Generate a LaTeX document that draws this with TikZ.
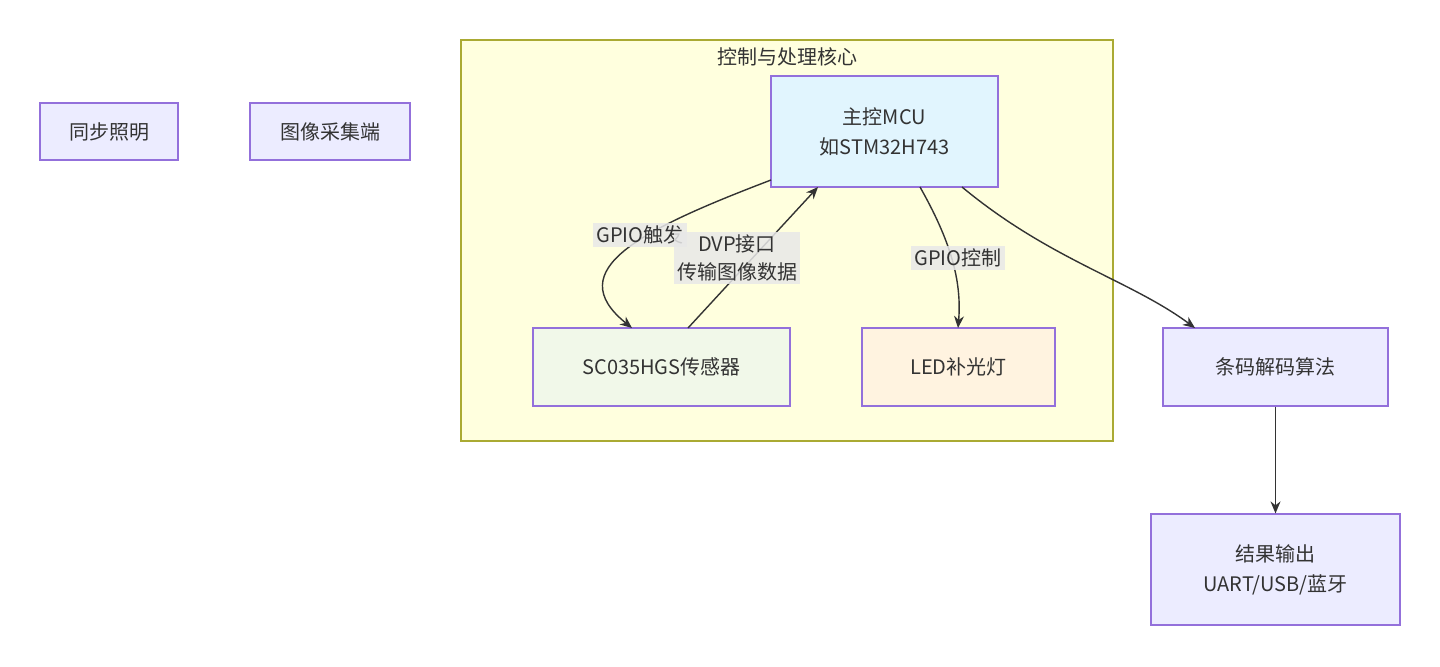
\documentclass[tikz,border=0pt]{standalone}
\usepackage{fontspec}
\setmainfont{Noto Sans CJK SC}
\usetikzlibrary{arrows.meta,positioning}
\definecolor{boxfill}{HTML}{ECECFF}
\definecolor{boxline}{HTML}{9370DB}
\definecolor{grpfill}{HTML}{FFFFDE}
\definecolor{grpline}{HTML}{AAAA33}
\definecolor{mcufill}{HTML}{E1F5FE}
\definecolor{senfill}{HTML}{F1F8E9}
\definecolor{ledfill}{HTML}{FFF3E0}
\definecolor{lblfill}{HTML}{E8E8E8}
\definecolor{edge}{HTML}{333333}
\tikzset{
  blk/.style={draw=boxline, fill=boxfill, line width=0.6pt, align=center,
    font=\fontsize{10}{15}\selectfont, text=black!80, inner sep=0pt},
  lbl/.style={fill=lblfill, fill opacity=0.85, text opacity=1, align=center,
    font=\fontsize{10}{14}\selectfont, text=black!80, inner sep=1.5pt},
  conn/.style={draw=edge, line width=0.7pt, -{Stealth[length=6pt,width=5pt]}}
}
\begin{document}
\begin{tikzpicture}[x=0.5pt, y=-0.5pt]
  \useasboundingbox (0,0) rectangle (1440,666);

  % subgraph
  \draw[draw=grpline, fill=grpfill, line width=0.6pt] (461,40) rectangle (1113,441);
  \node[font=\fontsize{10}{12}\selectfont, text=black!80] (title) at (787,57) {控制与处理核心};

  % nodes
  \node[blk, minimum width=69pt, minimum height=28.5pt] (light) at (109,131.5) {同步照明};
  \node[blk, minimum width=80pt, minimum height=28.5pt] (cam) at (330,131.5) {图像采集端};
  \node[blk, fill=mcufill, minimum width=113.5pt, minimum height=55.5pt] (mcu) at (884.5,131.5) {主控MCU\\如STM32H743};
  \node[blk, fill=senfill, minimum width=128.5pt, minimum height=39pt] (sensor) at (661.5,367) {SC035HGS传感器};
  \node[blk, fill=ledfill, minimum width=96.5pt, minimum height=39pt] (led) at (958.5,367) {LED补光灯};
  \node[blk, minimum width=112.5pt, minimum height=39pt] (decode) at (1275.5,367) {条码解码算法};
  \node[blk, minimum width=124.5pt, minimum height=55.5pt] (result) at (1275.5,569.5) {结果输出\\UART/USB/蓝牙};

  % connectors
  \coordinate (m1) at (771,180);
  \coordinate (m2) at (818,187);
  \coordinate (m3) at (920,187);
  \coordinate (m4) at (962,187);
  \coordinate (s1) at (632,328);
  \coordinate (s2) at (688,328);
  \coordinate (l1) at (958,328);
  \coordinate (d1) at (1195,328);
  \draw[conn] (m1) .. controls (640,230) and (560,270) .. (s1);
  \draw[conn] (s2) -- (m2);
  \draw[conn] (m3) .. controls (950,240) and (962,280) .. (l1);
  \draw[conn] (m4) .. controls (1050,260) and (1130,280) .. (d1);
  \draw[conn] (decode) -- (result);

  % edge labels
  \node[lbl] (gpio1) at (640,235) {GPIO触发};
  \node[lbl] (dvp) at (737,258) {DVP接口\\传输图像数据};
  \node[lbl] (gpio2) at (958,258) {GPIO控制};
\end{tikzpicture}
\end{document}
